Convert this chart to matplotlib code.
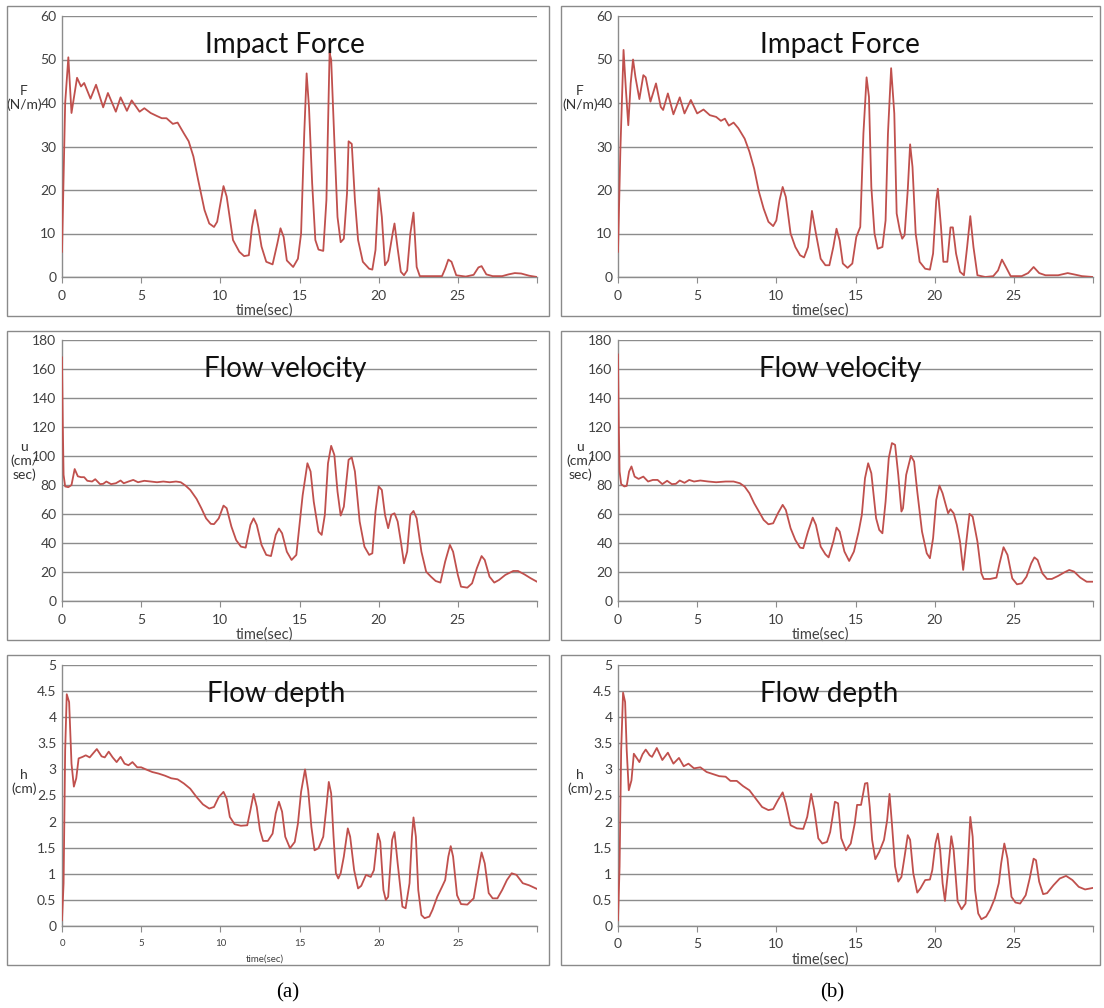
import matplotlib
matplotlib.use("Agg")
import matplotlib.pyplot as plt
import matplotlib.patches as patches

W, H = 1104, 1008

# ---------- data ----------
# (a) impact force
t_force_a = [0, 0.2, 0.4, 0.6, 0.95, 1.2, 1.4, 1.8, 2.15, 2.6, 2.9, 3.4, 3.7, 4.1, 4.4, 4.9,
             5.2, 5.6, 6.0, 6.3, 6.6, 7.0, 7.3, 7.7, 8.0, 8.3, 8.6, 9.0, 9.3, 9.6, 9.8, 10.2,
             10.4, 10.6, 10.8, 11.2, 11.5, 11.8, 12.0, 12.2, 12.4, 12.6, 12.9, 13.3, 13.6, 13.8,
             14.0, 14.2, 14.6, 14.9, 15.1, 15.3, 15.45, 15.6, 15.8, 16.0, 16.2, 16.5, 16.7, 16.9,
             17.0, 17.2, 17.4, 17.6, 17.8, 18.0, 18.1, 18.3, 18.5, 18.7, 19.0, 19.4, 19.6, 19.8,
             20.0, 20.2, 20.4, 20.6, 20.9, 21.0, 21.2, 21.4, 21.6, 21.8, 22.0, 22.2, 22.4, 22.6,
             23.0, 24.0, 24.2, 24.4, 24.6, 24.9, 25.5, 26.0, 26.3, 26.5, 26.8, 27.2, 27.8, 28.2,
             28.6, 29.0, 29.5, 30]
force_a = [5.8, 40, 50.5, 37.7, 45.8, 43.8, 44.6, 41, 44.2, 39, 42.3, 38, 41.3, 38.2, 40.6, 38,
           38.8, 37.7, 37, 36.5, 36.5, 35.2, 35.5, 33, 31.2, 27.7, 22.3, 15.4, 12.3, 11.5, 12.7, 20.9,
           18.5, 13.5, 8.5, 5.8, 4.8, 5, 11.5, 15.4, 11.5, 7, 3.5, 2.9, 7.7, 11.2,
           9.2, 3.8, 2.3, 4.2, 10, 33, 46.8, 39, 21.5, 8.5, 6.3, 6, 17.7, 51.5,
           50, 31.5, 13.8, 8, 8.8, 19.2, 31.2, 30.6, 17.7, 8.5, 3.5, 1.9, 1.7, 6.2,
           20.4, 13.8, 2.7, 3.8, 10.4, 12.3, 6.5, 1.2, 0.4, 1.5, 10, 14.8, 2.3, 0.2,
           0.2, 0.2, 1.9, 4, 3.5, 0.4, 0.1, 0.5, 2.2, 2.5, 0.6, 0.2, 0.2, 0.6,
           0.9, 0.8, 0.3, 0]

# (a) flow velocity
t_vel_a = [0, 0.05, 0.1, 0.2, 0.4, 0.6, 0.8, 1.0, 1.2, 1.4, 1.6, 1.9, 2.1, 2.4, 2.6, 2.8, 3.1,
           3.4, 3.7, 3.9, 4.2, 4.5, 4.8, 5.2, 5.6, 6.0, 6.4, 6.8, 7.2, 7.5, 7.8, 8.1, 8.5, 8.8,
           9.1, 9.4, 9.6, 9.9, 10.2, 10.4, 10.7, 11.0, 11.3, 11.6, 11.9, 12.1, 12.3, 12.6, 12.9,
           13.2, 13.5, 13.7, 13.9, 14.2, 14.5, 14.8, 15.0, 15.2, 15.5, 15.7, 15.9, 16.2, 16.4,
           16.6, 16.8, 17.0, 17.2, 17.4, 17.6, 17.8, 18.1, 18.3, 18.5, 18.8, 19.1, 19.4, 19.6,
           19.8, 20.0, 20.2, 20.4, 20.6, 20.8, 21.0, 21.2, 21.4, 21.6, 21.8, 22.0, 22.2, 22.4,
           22.7, 23.0, 23.3, 23.6, 23.9, 24.2, 24.5, 24.7, 25.0, 25.2, 25.6, 25.9, 26.2, 26.5,
           26.7, 27.0, 27.3, 27.6, 28.0, 28.5, 28.8, 29.2, 29.6, 30]
vel_a = [168, 121.5, 87, 79, 78.5, 80, 91, 86, 85.4, 85.4, 82.9, 82.4, 84, 80.6, 80.8, 82.4, 80.6,
         81.2, 83.1, 81.2, 82.4, 83.5, 81.9, 82.9, 82.4, 81.9, 82.4, 81.9, 82.4, 81.9, 79.6, 76.6, 70.4, 64,
         57, 53.2, 53, 57, 65.8, 64, 51.3, 42, 37.5, 36.8, 52.5, 57, 52.5, 38.7, 31.8,
         31, 45.6, 50, 46.7, 34, 28.3, 31.8, 52.5, 73, 95, 89.3, 68.5, 47.9, 45.6,
         59.4, 95, 107, 100.8, 75.5, 58.9, 65, 97.4, 99, 89.3, 54.8, 37.5, 31.8, 32.9,
         61.7, 79, 76.6, 59.4, 50.2, 59.4, 60.5, 54.8, 41, 26, 34, 59.4, 62.1, 57,
         34, 20.2, 16.8, 13.8, 12.7, 27.2, 38.7, 34, 18, 9.9, 9.2, 12.2, 22.6, 31,
         28.3, 16.8, 12.7, 14.5, 18, 20.7, 20.7, 18.4, 15.7, 13.3]

# (a) flow depth
t_depth_a = [0, 0.1, 0.2, 0.3, 0.45, 0.6, 0.75, 0.9, 1.05, 1.3, 1.5, 1.75, 2.0, 2.2, 2.5, 2.7,
             2.95, 3.2, 3.45, 3.7, 3.95, 4.2, 4.45, 4.75, 5.0, 5.3, 5.7, 6.1, 6.5, 6.9, 7.3, 7.7,
             8.1, 8.5, 8.9, 9.3, 9.6, 9.9, 10.2, 10.4, 10.6, 10.9, 11.3, 11.7, 11.9, 12.1, 12.3,
             12.5, 12.7, 13.0, 13.3, 13.5, 13.7, 13.9, 14.1, 14.4, 14.7, 14.9, 15.1, 15.35, 15.55,
             15.75, 15.95, 16.2, 16.5, 16.7, 16.85, 17.0, 17.15, 17.3, 17.45, 17.6, 17.8, 18.05,
             18.2, 18.45, 18.7, 18.9, 19.2, 19.5, 19.7, 19.95, 20.1, 20.3, 20.45, 20.6, 20.85,
             21.0, 21.2, 21.5, 21.7, 21.95, 22.1, 22.2, 22.35, 22.5, 22.7, 22.9, 23.2, 23.4, 23.7,
             24.0, 24.2, 24.4, 24.55, 24.7, 24.95, 25.2, 25.6, 26.0, 26.3, 26.5, 26.7, 26.95,
             27.2, 27.5, 27.8, 28.1, 28.4, 28.7, 29.1, 29.5, 30]
depth_a = [0.11, 0.82, 3.37, 4.44, 4.29, 3.11, 2.67, 2.83, 3.21, 3.24, 3.27, 3.23, 3.32, 3.39, 3.25, 3.23,
           3.34, 3.23, 3.14, 3.24, 3.11, 3.08, 3.14, 3.04, 3.04, 3.0, 2.95, 2.92, 2.88, 2.83, 2.81, 2.73,
           2.63, 2.47, 2.33, 2.25, 2.28, 2.47, 2.57, 2.44, 2.09, 1.95, 1.92, 1.93, 2.22, 2.53, 2.28,
           1.84, 1.63, 1.63, 1.77, 2.16, 2.38, 2.19, 1.71, 1.49, 1.61, 1.96, 2.57, 3.0, 2.6,
           1.9, 1.45, 1.49, 1.71, 2.28, 2.76, 2.54, 1.71, 1.01, 0.91, 1.01, 1.33, 1.87,
           1.71, 1.07, 0.72, 0.77, 0.98, 0.94, 1.07, 1.77, 1.61, 0.69, 0.5, 0.56, 1.65,
           1.8, 1.2, 0.37, 0.34, 0.82, 1.71, 2.08, 1.71, 0.69, 0.21, 0.15, 0.18, 0.31, 0.56,
           0.75, 0.88, 1.33, 1.53, 1.33, 0.59, 0.42, 0.41, 0.53, 1.07, 1.41, 1.2, 0.63,
           0.53, 0.53, 0.69, 0.88, 1.01, 0.98, 0.82, 0.78, 0.71]

# (b) impact force
t_force_b = [0, 0.15, 0.35, 0.5, 0.65, 0.8, 0.95, 1.1, 1.35, 1.6, 1.75, 2.05, 2.4, 2.7, 2.85, 3.15,
             3.5, 3.9, 4.2, 4.6, 5.0, 5.4, 5.8, 6.2, 6.5, 6.75, 7.0, 7.3, 7.6, 8.0, 8.3, 8.6, 8.9,
             9.2, 9.5, 9.8, 10.0, 10.2, 10.4, 10.6, 10.9, 11.2, 11.5, 11.75, 12.0, 12.25, 12.5,
             12.8, 13.1, 13.35, 13.6, 13.8, 14.0, 14.2, 14.5, 14.8, 15.05, 15.3, 15.5, 15.7, 15.85,
             16.0, 16.2, 16.4, 16.7, 16.9, 17.05, 17.25, 17.45, 17.6, 17.8, 17.95, 18.1, 18.3,
             18.45, 18.6, 18.8, 19.05, 19.4, 19.7, 19.9, 20.1, 20.2, 20.4, 20.55, 20.8, 21.0,
             21.15, 21.35, 21.6, 21.85, 22.05, 22.25, 22.45, 22.7, 23.2, 23.7, 24.0, 24.25, 24.5,
             24.8, 25.5, 25.9, 26.25, 26.6, 27.0, 27.8, 28.4, 28.8, 29.3, 30]
force_b = [5.8, 29.2, 52.2, 43, 34.9, 44.5, 50, 46, 40.9, 46.4, 45.9, 40.3, 44.5, 39.1, 38.4, 42.2,
           37.4, 41.3, 37.6, 40.7, 37.6, 38.5, 37.2, 36.8, 35.9, 36.4, 34.8, 35.5, 34.2, 31.8, 28.8, 24.9, 19.6,
           15.7, 12.7, 11.7, 13, 17.6, 20.7, 18.4, 10, 6.9, 5, 4.5, 6.9, 15.2, 10,
           4.2, 2.7, 2.7, 6.9, 11.1, 8.4, 3.1, 2.1, 3.1, 9.2, 11.5, 33, 45.9, 41.4,
           20.7, 10, 6.5, 6.9, 13, 33, 48, 37.6, 14.6, 10.7, 8.8, 9.6, 20,
           30.5, 25.3, 10, 3.5, 1.9, 1.7, 5.4, 17.6, 20.3, 11.5, 3.5, 3.5, 11.4,
           11.4, 5.4, 1.2, 0.4, 6.9, 14, 6.9, 0.4, 0, 0.2, 1.5, 4, 2.3,
           0.2, 0.2, 0.9, 2.3, 0.9, 0.4, 0.4, 0.9, 0.6, 0.2, 0]

# (b) flow velocity
t_vel_b = [0, 0.05, 0.1, 0.2, 0.4, 0.55, 0.7, 0.85, 1.05, 1.3, 1.6, 1.9, 2.2, 2.5, 2.8, 3.1, 3.4,
           3.65, 3.9, 4.2, 4.5, 4.8, 5.2, 5.7, 6.2, 6.8, 7.3, 7.7, 8.0, 8.3, 8.6, 8.9, 9.2, 9.5,
           9.8, 10.1, 10.4, 10.6, 10.9, 11.2, 11.5, 11.7, 12.0, 12.3, 12.5, 12.8, 13.1, 13.3,
           13.6, 13.8, 14.0, 14.3, 14.6, 14.9, 15.2, 15.4, 15.6, 15.8, 16.0, 16.3, 16.5, 16.7,
           16.9, 17.1, 17.3, 17.5, 17.7, 17.9, 18.0, 18.2, 18.5, 18.7, 18.9, 19.2, 19.5, 19.7,
           19.9, 20.1, 20.3, 20.5, 20.7, 20.85, 21.0, 21.2, 21.4, 21.6, 21.8, 22.0, 22.2, 22.4,
           22.7, 22.95, 23.1, 23.5, 23.9, 24.1, 24.35, 24.6, 24.9, 25.2, 25.5, 25.8, 26.1, 26.3,
           26.5, 26.8, 27.1, 27.4, 27.8, 28.2, 28.5, 28.8, 29.2, 29.6, 30]
vel_b = [170, 121.5, 89.3, 80.6, 79, 79.4, 89.3, 92.8, 85.8, 84.2, 85.8, 82.4, 83.5, 83.5, 80.6, 82.9, 80.6,
         80.8, 83.1, 81.5, 83.5, 82.4, 83.1, 82.4, 81.9, 82.4, 82.4, 81.2, 78.9, 74.3, 67.4, 61.7, 55.9, 52.9,
         53.6, 60.5, 66.3, 62.8, 50.2, 42.1, 36.8, 36.4, 47.9, 57.5, 52.5, 37.5, 32.2, 30.1,
         41, 50.6, 47.9, 34.1, 27.6, 34.1, 47.9, 59.4, 84.7, 95, 88.1, 57.1, 49, 46.7,
         68.6, 98.5, 108.9, 107.7, 87, 61.7, 64, 87, 100.1, 96.2, 75.5, 47.9, 32.9, 29.5,
         43.3, 69.7, 79.6, 74.3, 66.3, 60.5, 63.3, 60.5, 52.5, 41, 21.4, 41, 60.1, 58.2,
         41, 19.1, 15.2, 15.2, 16.1, 26, 37.1, 31.8, 15.6, 11.5, 12.2, 16.8, 26, 30.1,
         28.3, 19.1, 15.2, 15.2, 17.3, 19.8, 21.4, 20.3, 16.1, 13.3, 13.3]

# (b) flow depth
t_depth_b = [0, 0.1, 0.2, 0.32, 0.45, 0.55, 0.68, 0.85, 1.0, 1.2, 1.35, 1.55, 1.75, 2.0, 2.15, 2.45,
             2.8, 3.15, 3.5, 3.85, 4.15, 4.45, 4.8, 5.2, 5.6, 6.0, 6.4, 6.8, 7.1, 7.5, 7.9, 8.3,
             8.7, 9.1, 9.5, 9.8, 10.1, 10.4, 10.6, 10.9, 11.3, 11.7, 11.95, 12.2, 12.4, 12.65,
             12.9, 13.2, 13.4, 13.7, 13.9, 14.1, 14.4, 14.7, 14.95, 15.1, 15.35, 15.6, 15.75, 15.9,
             16.05, 16.25, 16.5, 16.8, 17.0, 17.15, 17.3, 17.5, 17.7, 17.9, 18.1, 18.3, 18.45,
             18.65, 18.9, 19.1, 19.4, 19.7, 19.85, 20.05, 20.2, 20.35, 20.5, 20.65, 20.85, 21.05,
             21.2, 21.45, 21.7, 21.95, 22.1, 22.25, 22.4, 22.55, 22.75, 22.95, 23.25, 23.5, 23.8,
             24.05, 24.2, 24.4, 24.6, 24.85, 25.1, 25.4, 25.75, 26.0, 26.25, 26.4, 26.6, 26.85,
             27.1, 27.5, 27.9, 28.3, 28.7, 29.1, 29.5, 30]
depth_b = [0.11, 1.14, 3.37, 4.47, 4.29, 3.37, 2.6, 2.79, 3.3, 3.21, 3.14, 3.29, 3.38, 3.27, 3.24, 3.41,
           3.18, 3.32, 3.11, 3.22, 3.06, 3.11, 3.02, 3.04, 2.95, 2.91, 2.87, 2.86, 2.78, 2.78, 2.68, 2.6,
           2.44, 2.28, 2.22, 2.24, 2.41, 2.56, 2.35, 1.93, 1.87, 1.86, 2.09, 2.53, 2.22, 1.68,
           1.58, 1.61, 1.8, 2.38, 2.35, 1.68, 1.45, 1.58, 1.96, 2.32, 2.32, 2.73, 2.74, 2.28,
           1.65, 1.28, 1.42, 1.65, 2.03, 2.53, 1.96, 1.14, 0.85, 0.94, 1.33, 1.74, 1.65,
           1.01, 0.64, 0.72, 0.88, 0.89, 1.07, 1.58, 1.77, 1.45, 0.82, 0.48, 1.07, 1.72,
           1.45, 0.47, 0.32, 0.43, 1.2, 2.09, 1.71, 0.69, 0.24, 0.13, 0.18, 0.31, 0.53,
           0.82, 1.2, 1.58, 1.29, 0.56, 0.45, 0.43, 0.59, 0.91, 1.29, 1.26, 0.85, 0.61,
           0.63, 0.78, 0.91, 0.96, 0.88, 0.75, 0.7, 0.73]

x_ticks = [0, 5, 10, 15, 20, 25, 30]
x_labels = ['0', '5', '10', '15', '20', '25', '']
titles = ['Impact Force', 'Flow velocity', 'Flow depth']
ylabels = ['F\n(N/m)', 'u\n(cm/\nsec)', 'h\n(cm)']
y_limits = [(0, 60, 10), (0, 180, 20), (0, 5, 0.5)]
panel_labels = ['(a)', '(b)']

LINE = '#C0504D'
GRID = '#8c8c8c'
TXT = '#404040'
SANS = ['Lato', 'DejaVu Sans']

fig = plt.figure(figsize=(W / 100, H / 100), dpi=100)
fig.patch.set_facecolor('white')

col_box = [(7, 549), (561, 1100)]
col_plot = [(62, 537), (618, 1093)]
row_box = [(6, 316), (331, 640), (655, 965)]
row_plot = [(16, 277), (340, 601), (665, 926)]
title_x = [[0.47, 0.47, 0.45], [0.467, 0.467, 0.445]]

data = [[(t_force_a, force_a), (t_vel_a, vel_a), (t_depth_a, depth_a)],
        [(t_force_b, force_b), (t_vel_b, vel_b), (t_depth_b, depth_b)]]

for c in range(2):
    for r in range(3):
        bx0, bx1 = col_box[c]
        by0, by1 = row_box[r]
        fig.patches.append(patches.Rectangle((bx0 / W, 1 - by1 / H), (bx1 - bx0) / W, (by1 - by0) / H,
                                             transform=fig.transFigure, fill=False,
                                             edgecolor='#8a8a8a', linewidth=1.0))
        px0, px1 = col_plot[c]
        py0, py1 = row_plot[r]
        ax = fig.add_axes([px0 / W, 1 - py1 / H, (px1 - px0) / W, (py1 - py0) / H])
        t, v = data[c][r]
        ax.plot(t, v, color=LINE, linewidth=1.3, zorder=3)

        ylo, yhi, ystep = y_limits[r]
        n = int(round((yhi - ylo) / ystep))
        yt = [ylo + i * ystep for i in range(n + 1)]
        ax.set_ylim(ylo, yhi)
        ax.set_yticks(yt)
        if r == 2:
            ax.set_yticklabels(['0' if y == 0 else ('%g' % y) for y in yt])
        ax.set_xlim(0, 30)
        ax.set_xticks(x_ticks)
        ax.set_xticklabels(x_labels)
        ax.yaxis.grid(True, color=GRID, linewidth=1.0)
        ax.set_axisbelow(True)
        for s in ['top', 'right']:
            ax.spines[s].set_visible(False)
        for s in ['left', 'bottom']:
            ax.spines[s].set_color(GRID)
            ax.spines[s].set_linewidth(1.0)

        small_x = (c == 0 and r == 2)
        ax.tick_params(axis='y', length=0, pad=4, labelsize=10, labelcolor=TXT)
        ax.tick_params(axis='x', length=4, color=GRID, pad=5,
                       labelsize=7 if small_x else 10, labelcolor=TXT)
        for lab in ax.get_xticklabels() + ax.get_yticklabels():
            lab.set_family(SANS)

        ax.text(title_x[c][r], 0.89, titles[r], transform=ax.transAxes, ha='center', va='center',
                fontsize=20, color='#111111', family=SANS)

        ylab_y = [0.686, 0.536, 0.552][r]
        ax.text(-0.08, ylab_y, ylabels[r], transform=ax.transAxes, ha='center', va='center',
                fontsize=10, color='#333333', family=SANS, linespacing=1.15)

        if small_x:
            ax.text(0.427, -0.125, 'time(sec)', transform=ax.transAxes, ha='center', va='center',
                    fontsize=7, color=TXT, family=SANS)
        else:
            ax.text(0.427, -0.13, 'time(sec)', transform=ax.transAxes, ha='center', va='center',
                    fontsize=10.5, color=TXT, family=SANS)

fig.text(288 / W, 1 - 993 / H, panel_labels[0], ha='center', va='center', fontsize=15,
         family=['Liberation Serif', 'DejaVu Serif'])
fig.text(832 / W, 1 - 993 / H, panel_labels[1], ha='center', va='center', fontsize=15,
         family=['Liberation Serif', 'DejaVu Serif'])

fig.savefig('out.png', dpi=100)
